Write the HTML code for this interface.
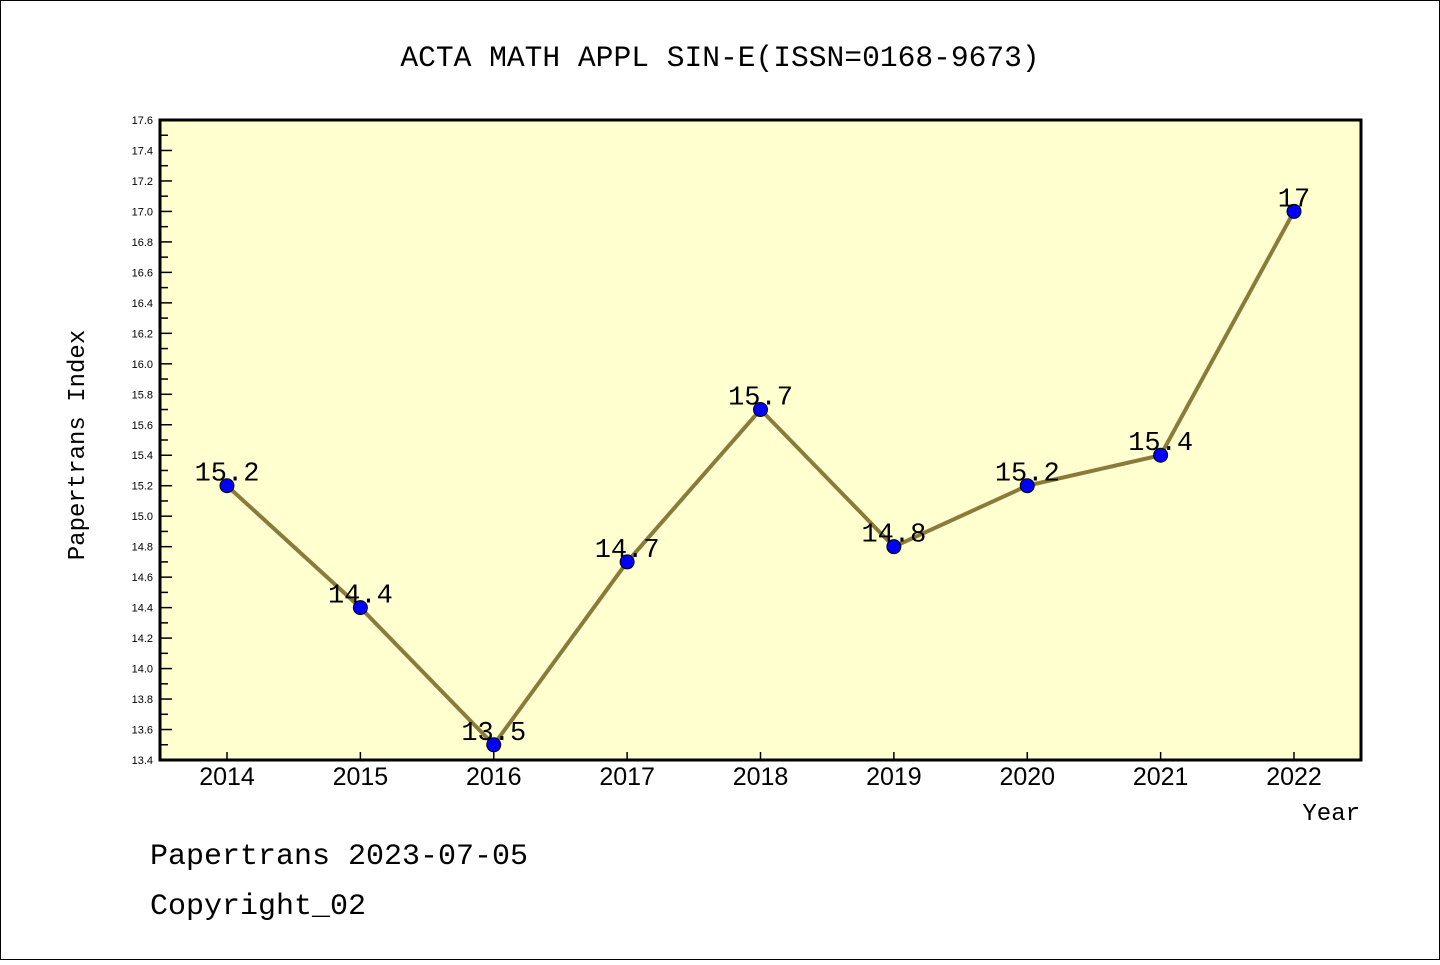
<!DOCTYPE html>
<html><head><meta charset="utf-8"><style>
body{margin:0;background:#fff;}
.m{font-family:"Liberation Mono","DejaVu Sans Mono",monospace;}
.s{font-family:"Liberation Sans","DejaVu Sans",sans-serif;}
</style></head><body>
<svg id="c" width="1440" height="960" xmlns="http://www.w3.org/2000/svg">
<rect x="0.5" y="0.5" width="1439" height="959" fill="#fff" stroke="#000"/>
<text class="m" x="720" y="66" font-size="29.6" text-anchor="middle">ACTA MATH APPL SIN-E(ISSN=0168-9673)</text>
<rect x="160" y="120" width="1201" height="640" fill="#ffffd0"/>
<g id="axes"></g>
<g id="series"></g>
<rect x="160" y="120" width="1201" height="640" fill="none" stroke="#000" stroke-width="3"/>
<text class="m" x="84" y="445" font-size="24" text-anchor="middle" transform="rotate(-90 84 445)">Papertrans Index</text>
<text class="m" x="1360" y="820" font-size="24" text-anchor="end">Year</text>
<text class="m" x="150" y="864" font-size="30">Papertrans 2023-07-05</text>
<text class="m" x="150" y="914" font-size="30">Copyright_02</text>
</svg>
<script>
const years=["2014","2015","2016","2017","2018","2019","2020","2021","2022"];
const values=[15.2,14.4,13.5,14.7,15.7,14.8,15.2,15.4,17];
const valueLabels=["15.2","14.4","13.5","14.7","15.7","14.8","15.2","15.4","17"];
const yMin=13.4,yMax=17.6;
const NS="http://www.w3.org/2000/svg";
function X(i){return 227+i*(1294-227)/(years.length-1);}
function Y(v){return 760-(v-yMin)/(yMax-yMin)*640;}
function mk(t,a,p){const e=document.createElementNS(NS,t);for(const k in a)e.setAttribute(k,a[k]);p.appendChild(e);return e;}
const ax=document.getElementById('axes'),se=document.getElementById('series');
for(let k=0;k<=42;k++){const v=yMin+k*0.1;const y=Y(v);const major=k%2===0;
 const l=mk('line',{x1:160,x2:major?172:168,y1:y,y2:y,stroke:'#000','stroke-width':1.5},ax);
 
 
 if(major){const t=mk('text',{x:153,y:y+4,'font-size':11,'text-anchor':'end',class:'s'},ax);t.textContent=v.toFixed(1);
 
 }}
years.forEach((yr,i)=>{const x=X(i);
 const l=mk('line',{x1:x,x2:x,y1:760,y2:752,stroke:'#000','stroke-width':1.5},ax);
 
 
 const t=mk('text',{x:x,y:785,'font-size':25,'text-anchor':'middle',class:'s'},ax);t.textContent=yr;
 
 });
const pl=mk('polyline',{points:values.map((v,i)=>X(i)+','+Y(v)).join(' '),fill:'none',stroke:'#8b7b3a','stroke-width':4},se);


values.forEach((v,i)=>{
 const c=mk('circle',{cx:X(i),cy:Y(v),r:7,fill:'#0000ff',stroke:'#000','stroke-width':1},se);
 
 
 const t=mk('text',{x:X(i),y:Y(v)-5,'font-size':27,'text-anchor':'middle',class:'m'},se);t.textContent=valueLabels[i];
 
 });
</script>
</body></html>
